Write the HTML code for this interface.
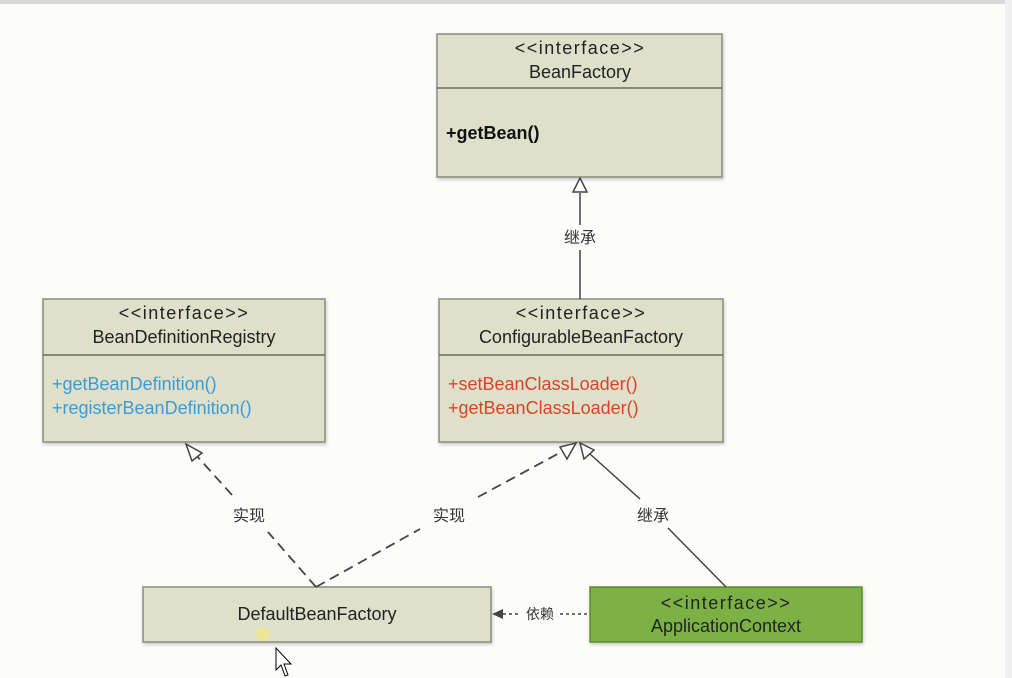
<!DOCTYPE html>
<html><head><meta charset="utf-8"><style>
html,body{margin:0;padding:0;background:#fafafa;}
svg{display:block;}
text{font-family:"Liberation Sans","Noto Sans CJK SC",sans-serif;}
</style></head><body>
<svg width="1012" height="678" viewBox="0 0 1012 678" xmlns="http://www.w3.org/2000/svg">
<rect x="0" y="0" width="1012" height="678" fill="#fcfcfb"/>
<rect x="0" y="0" width="1012" height="4" fill="#d8d8d8"/>
<rect x="1005" y="0" width="7" height="678" fill="#f0f0f0"/>
<defs>
<filter id="sh" x="-5%" y="-5%" width="110%" height="115%"><feDropShadow dx="1" dy="2" stdDeviation="1.5" flood-color="#000" flood-opacity="0.2"/></filter>
</defs>
<g fill="#dfe0c9" stroke="#8a8a80" stroke-width="1.5" filter="url(#sh)">
<rect x="437" y="34" width="285" height="143"/>
<rect x="43" y="299" width="282" height="143"/>
<rect x="439" y="299" width="284" height="143"/>
<rect x="143" y="587" width="348" height="55"/>
<rect x="590" y="587" width="272" height="55" fill="#7bb244" stroke="#5a8a30"/>
</g>
<g stroke="#6a6a62" stroke-width="1.5">
<line x1="437" y1="88" x2="722" y2="88"/>
<line x1="43" y1="355" x2="325" y2="355"/>
<line x1="439" y1="355" x2="723" y2="355"/>
</g>
<g font-size="18" fill="#222" text-anchor="middle">
<text x="580" y="54" letter-spacing="1.5">&lt;&lt;interface&gt;&gt;</text>
<text x="580" y="78">BeanFactory</text>
<text x="184" y="319" letter-spacing="1.5">&lt;&lt;interface&gt;&gt;</text>
<text x="184" y="343">BeanDefinitionRegistry</text>
<text x="581" y="319" letter-spacing="1.5">&lt;&lt;interface&gt;&gt;</text>
<text x="581" y="343">ConfigurableBeanFactory</text>
<text x="317" y="620">DefaultBeanFactory</text>
<text x="726" y="609" letter-spacing="1.5">&lt;&lt;interface&gt;&gt;</text>
<text x="726" y="632">ApplicationContext</text>
</g>
<text x="446" y="139" font-size="18" font-weight="bold" fill="#111">+getBean()</text>
<g font-size="18" fill="#3b9bd6">
<text x="52" y="390">+getBeanDefinition()</text>
<text x="52" y="414">+registerBeanDefinition()</text>
</g>
<g font-size="18" fill="#d9432c">
<text x="448" y="390">+setBeanClassLoader()</text>
<text x="448" y="414">+getBeanClassLoader()</text>
</g>
<line x1="580" y1="193" x2="580" y2="225" stroke="#444" stroke-width="1.5"/>
<line x1="580" y1="250" x2="580" y2="299" stroke="#444" stroke-width="1.5"/>
<polygon points="580,178 573,192 587,192" fill="#fff" stroke="#444" stroke-width="1.5"/>
<g stroke="#444" stroke-width="1.8" stroke-dasharray="10,6" fill="none">
<line x1="316" y1="587" x2="268" y2="532"/>
<line x1="232" y1="495" x2="196" y2="455"/>
<line x1="316" y1="587" x2="420" y2="529"/>
<line x1="478" y1="497" x2="565" y2="450"/>
</g>
<polygon points="186,444 192,461 202,453" fill="#fff" stroke="#444" stroke-width="1.5"/>
<polygon points="576,443 560,447 567,459" fill="#fff" stroke="#444" stroke-width="1.5"/>
<line x1="726" y1="587" x2="668" y2="528" stroke="#444" stroke-width="1.5"/>
<line x1="640" y1="499" x2="590" y2="454" stroke="#444" stroke-width="1.5"/>
<polygon points="580,443 584,459 594,450" fill="#fff" stroke="#444" stroke-width="1.5"/>
<line x1="503" y1="614" x2="520" y2="614" stroke="#444" stroke-width="1.5" stroke-dasharray="3,3"/>
<line x1="560" y1="614" x2="590" y2="614" stroke="#444" stroke-width="1.5" stroke-dasharray="3,3"/>
<polygon points="492,614 503,609 503,619" fill="#444"/>
<g font-size="16" fill="#333" text-anchor="middle">
<text x="580" y="243">继承</text>
<text x="249" y="521">实现</text>
<text x="449" y="521">实现</text>
<text x="653" y="521">继承</text>
<text x="540" y="619" font-size="14">依赖</text>
</g>
<circle cx="263" cy="634" r="7" fill="#f0e68c" opacity="0.8"/>
<path d="M276,648 L276,670 L281,665 L285,676 L288,675 L284,664 L291,664 Z" fill="#fff" stroke="#000" stroke-width="1"/>
</svg>
</body></html>
